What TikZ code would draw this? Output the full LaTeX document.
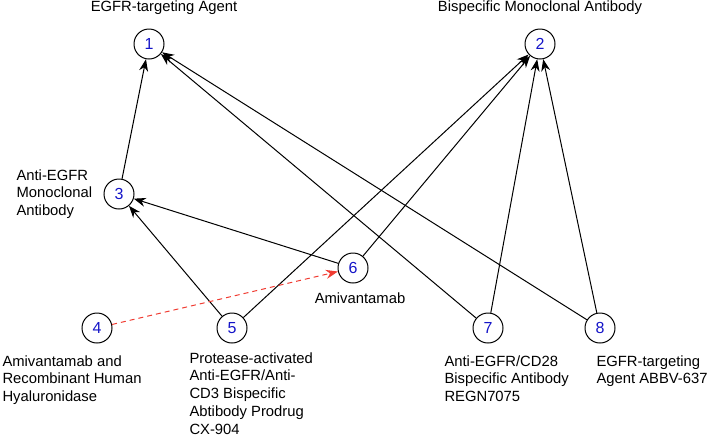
\documentclass[tikz,border=0pt]{standalone}
\usepackage{fontspec}
\setmainfont{Liberation Sans}
\usetikzlibrary{arrows.meta}
\definecolor{numblue}{RGB}{20,20,200}
\definecolor{dashred}{RGB}{240,60,50}

\begin{document}
\begin{tikzpicture}[x=1pt, y=-1pt, line width=1pt,
    num/.style={circle, draw, minimum size=30pt, inner sep=0pt, text=numblue, font=\fontsize{16}{18}\selectfont},
    lbl/.style={align=left, font=\fontsize{14.8}{17.7}\selectfont, inner sep=0pt},
    link/.style={-{Stealth[length=12pt, width=9pt]}},
    via/.style={link, dashred, dashed, dash pattern=on 5pt off 4pt}]
    \useasboundingbox (0,0) rectangle (708,440);

    % draw nodes
    \node[num] (n1) at (149,44) {1};
    \node[num] (n2) at (540,44) {2};
    \node[num] (n3) at (119,194) {3};
    \node[num] (n4) at (97,328) {4};
    \node[num] (n5) at (232,328) {5};
    \node[num] (n6) at (353,268) {6};
    \node[num] (n7) at (488,328) {7};
    \node[num] (n8) at (600,328) {8};

    % draw labels
    \node[lbl] (t1) at (164,8) {EGFR-targeting Agent};
    \node[lbl] (t2) at (540,8) {Bispecific Monoclonal Antibody};
    \node[lbl, anchor=west] (t3) at (16,194) {Anti-EGFR\\Monoclonal\\Antibody};
    \node[lbl, anchor=north west] (t4) at (2,355) {Amivantamab and\\Recombinant Human\\Hyaluronidase};
    \node[lbl, anchor=north west] (t5) at (189,352) {Protease-activated\\Anti-EGFR/Anti-\\CD3 Bispecific\\Abtibody Prodrug\\CX-904};
    \node[lbl] (t6) at (360,298) {Amivantamab};
    \node[lbl, anchor=north west] (t7) at (444,355) {Anti-EGFR/CD28\\Bispecific Antibody\\REGN7075};
    \node[lbl, anchor=north west] (t8) at (596,355) {EGFR-targeting\\Agent ABBV-637};

    % draw edges
    \draw[link] (n3) -- (n1);
    \draw[link] (n7) -- (n1);
    \draw[link] (n8) -- (n1);
    \draw[link] (n5) -- (n3);
    \draw[link] (n6) -- (n3);
    \draw[link] (n5) -- (n2);
    \draw[link] (n6) -- (n2);
    \draw[link] (n7) -- (n2);
    \draw[link] (n8) -- (n2);
    \draw[via] (n4) -- (n6);
\end{tikzpicture}
\end{document}
